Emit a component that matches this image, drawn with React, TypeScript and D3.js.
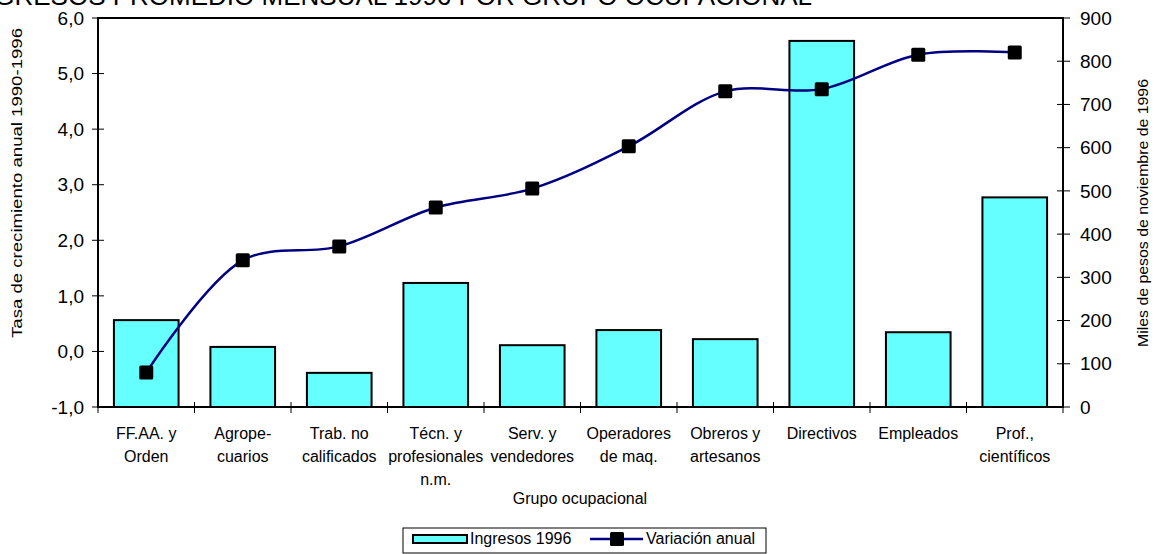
import React from "react";
import * as d3 from "d3";

const categories: string[][] = [
  ["FF.AA. y", "Orden"],
  ["Agrope-", "cuarios"],
  ["Trab. no", "calificados"],
  ["Técn. y", "profesionales", "n.m."],
  ["Serv. y", "vendedores"],
  ["Operadores", "de maq."],
  ["Obreros y", "artesanos"],
  ["Directivos"],
  ["Empleados"],
  ["Prof.,", "científicos"],
];
const ingresos1996 = [201, 139, 79, 287, 143, 178, 157, 847, 173, 485];
const variacionAnual = [-0.38, 1.64, 1.89, 2.59, 2.93, 3.69, 4.68, 4.72, 5.34, 5.38];
const leftTicks = [-1, 0, 1, 2, 3, 4, 5, 6];
const rightTicks = [0, 100, 200, 300, 400, 500, 600, 700, 800, 900];

const W = 1156;
const H = 554;
const M = { left: 98, right: 1063, top: 18, bottom: 407 };
const FONT = "Liberation Sans, Arial, sans-serif";
const CYAN = "#66FFFF";
const NAVY = "#000080";

export default function App() {
  const ids = categories.map((_, i) => String(i));
  const x = d3.scaleBand<string>().domain(ids).range([M.left, M.right]).paddingInner(0.33).paddingOuter(0.165);
  const yL = d3.scaleLinear().domain([-1, 6]).range([M.bottom, M.top]);
  const yR = d3.scaleLinear().domain([0, 900]).range([M.bottom, M.top]);
  const cx = (i: number) => (x(String(i)) as number) + x.bandwidth() / 2;
  const line = d3
    .line<number>()
    .x((_, i) => cx(i))
    .y((d) => yL(d))
    .curve(d3.curveCatmullRom.alpha(0.5));
  const step = x.step();
  const boundaries = d3.range(categories.length + 1).map((i) => M.left + i * step);
  const fmtL = (v: number) => d3.format(".1f")(v).replace(".", ",").replace("\u2212", "-");
  const ms = 14;

  return (
    <svg width={W} height={H} style={{ position: "absolute", left: 0, top: 0, background: "#fff" }} fontFamily={FONT}>
      <rect x={0} y={0} width={W} height={H} fill="#fff" />
      {/* Title (partially cut off at top) */}
      <text x={812} y={5} textAnchor="end" fontSize={26} fill="#000">
        INGRESOS PROMEDIO MENSUAL 1996 POR GRUPO OCUPACIONAL
      </text>

      {/* Bars */}
      {ingresos1996.map((v, i) => (
        <rect
          key={"b" + i}
          x={x(String(i))}
          y={yR(v)}
          width={x.bandwidth()}
          height={yR(0) - yR(v)}
          fill={CYAN}
          stroke="#000"
          strokeWidth={2}
        />
      ))}

      {/* Plot frame */}
      <rect x={M.left} y={M.top} width={M.right - M.left} height={M.bottom - M.top} fill="none" stroke="#000" strokeWidth={2} />

      {/* Left axis ticks */}
      {leftTicks.map((t) => (
        <g key={"l" + t}>
          <line x1={M.left - 6} x2={M.left + 6} y1={yL(t)} y2={yL(t)} stroke="#000" strokeWidth={1} />
          <text x={M.left - 14} y={yL(t)} dy="0.35em" textAnchor="end" fontSize={19}>
            {fmtL(t)}
          </text>
        </g>
      ))}
      {/* Right axis ticks */}
      {rightTicks.map((t) => (
        <g key={"r" + t}>
          <line x1={M.right - 6} x2={M.right + 7} y1={yR(t)} y2={yR(t)} stroke="#000" strokeWidth={1} />
          <text x={M.right + 17} y={yR(t)} dy="0.35em" textAnchor="start" fontSize={19}>
            {t}
          </text>
        </g>
      ))}
      {/* Category ticks */}
      {boundaries.map((bx, i) => (
        <line key={"c" + i} x1={bx} x2={bx} y1={M.bottom - 5} y2={M.bottom + 6} stroke="#000" strokeWidth={1} />
      ))}
      {/* Category labels */}
      {categories.map((lines, i) => (
        <text key={"cl" + i} x={cx(i)} y={439} textAnchor="middle" fontSize={16}>
          {lines.map((ln, j) => (
            <tspan key={j} x={cx(i)} dy={j === 0 ? 0 : 23}>
              {ln}
            </tspan>
          ))}
        </text>
      ))}

      {/* Line */}
      <path d={line(variacionAnual) || ""} fill="none" stroke={NAVY} strokeWidth={2.5} />
      {variacionAnual.map((v, i) => (
        <rect key={"m" + i} x={cx(i) - ms / 2} y={yL(v) - ms / 2} width={ms} height={ms} rx={1.5} fill="#000" />
      ))}

      {/* Axis titles */}
      <text
        transform={`translate(17,183) rotate(-90)`}
        textAnchor="middle"
        dy="0.35em"
        fontSize={15}
        textLength={310}
        lengthAdjust="spacingAndGlyphs"
      >
        Tasa de crecimiento anual 1990-1996
      </text>
      <text
        transform={`translate(1143,213) rotate(-90)`}
        textAnchor="middle"
        dy="0.35em"
        fontSize={15}
        textLength={268}
        lengthAdjust="spacingAndGlyphs"
      >
        Miles de pesos de noviembre de 1996
      </text>
      <text x={580} y={504} textAnchor="middle" fontSize={16}>
        Grupo ocupacional
      </text>

      {/* Legend */}
      <rect x={403} y={528} width={363} height={25} fill="#fff" stroke="#000" strokeWidth={1} />
      <rect x={413} y={535} width={54} height={8} fill={CYAN} stroke="#000" strokeWidth={2} />
      <text x={470} y={544} fontSize={16}>
        Ingresos 1996
      </text>
      <line x1={590} x2={643} y1={539} y2={539} stroke={NAVY} strokeWidth={2.5} />
      <rect x={617 - ms / 2} y={539 - ms / 2} width={ms} height={ms} rx={1.5} fill="#000" />
      <text x={646} y={544} fontSize={16}>
        Variación anual
      </text>
    </svg>
  );
}
